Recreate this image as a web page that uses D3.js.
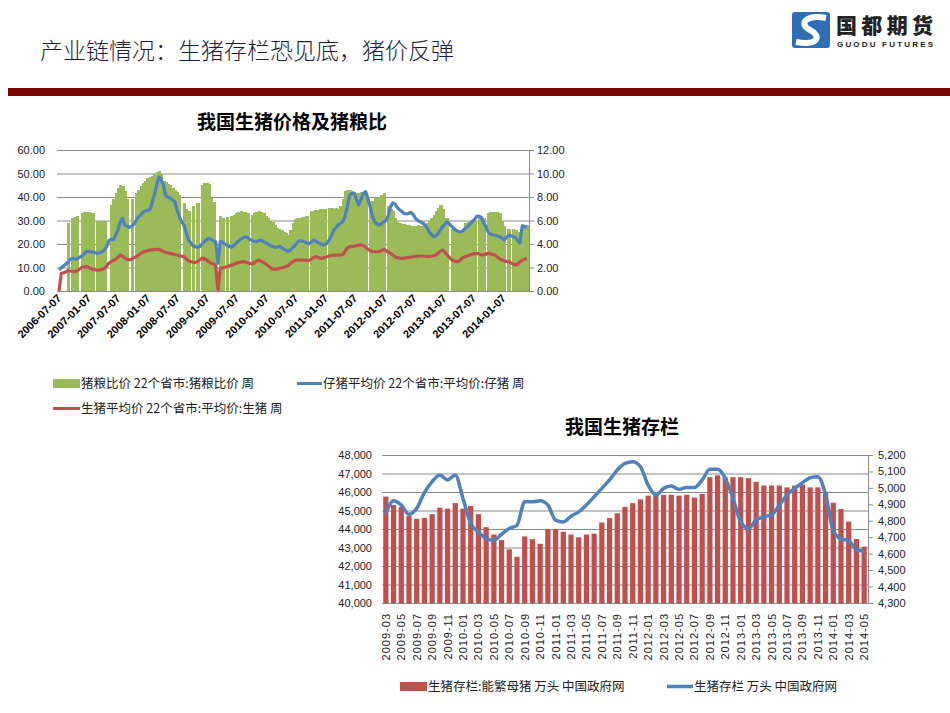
<!DOCTYPE html>
<html><head><meta charset="utf-8">
<script src="https://cdn.jsdelivr.net/npm/d3@7/dist/d3.min.js"></script>
<style>
html,body{margin:0;padding:0;background:#fff;}
svg{display:block;font-family:"Liberation Sans",Arial,sans-serif;}
</style></head><body>
<svg id="c" width="950" height="713"></svg>
<script>
// ---------- data: top chart (bi-weekly from 2006-07-07) ----------
const weekStart = "2006-07-07";
const stepDays = 14;
const topTickLabels = ["2006-07-07","2007-01-07","2007-07-07","2008-01-07","2008-07-07","2009-01-07","2009-07-07","2010-01-07","2010-07-07","2011-01-07","2011-07-07","2012-01-07","2012-07-07","2013-01-07","2013-07-07","2014-01-07"];
const leftTicks = [0,10,20,30,40,50,60];
const rightTicks = [0,2,4,6,8,10,12];
// 猪粮比价 (right axis)
const ratioValues = [
null,null,null,null,5.8,null,6.2,6.3,6.4,null,
6.6,6.7,6.75,6.7,6.6,6.6,null,6.0,5.95,5.9,
6.0,null,null,7.3,7.8,8.3,8.8,9.0,8.9,8.5,
7.8,null,7.8,null,8.3,8.6,8.9,9.2,9.4,9.6,
9.7,9.8,10.0,10.1,10.2,10.0,9.4,9.3,9.1,9.0,
8.8,8.6,8.4,8.2,null,7.5,7.0,6.8,null,7.2,
null,7.5,null,9.0,9.2,9.2,9.1,7.9,7.6,null,
null,6.4,6.2,null,6.3,null,6.4,6.5,6.6,6.7,
6.8,6.75,6.7,6.6,null,6.5,6.6,6.75,6.8,6.7,
6.6,6.4,6.2,6.0,5.9,5.6,5.4,5.3,5.2,5.0,
4.9,4.8,5.2,5.8,6.1,6.2,6.2,6.3,6.3,6.4,
null,6.8,6.85,6.9,6.9,6.95,7.0,7.0,null,7.1,
7.1,7.0,7.1,7.0,7.2,7.8,8.5,8.6,8.6,8.5,
8.4,8.3,8.3,8.4,8.2,8.3,null,7.6,7.7,7.9,
8.0,8.0,8.2,8.3,null,7.2,7.0,6.8,6.2,5.9,
5.8,5.7,5.7,5.6,5.6,5.5,5.5,5.5,5.6,5.5,
5.5,5.6,5.8,6.0,6.2,6.5,6.8,7.1,7.3,7.0,
6.2,6.2,null,5.3,5.2,5.1,5.0,5.1,5.3,5.8,
5.9,6.0,6.0,6.0,null,6.2,6.2,6.2,null,6.6,
6.7,6.7,6.75,6.7,6.6,6.0,5.5,null,5.3,null,
5.3,5.2,5.0,4.9,5.3,5.6,5.6];
// 仔猪平均价 (left axis)
const pigletPrice = [
9.0,9.8,10.6,11.5,12.3,13.5,13.9,13.6,13.6,14.3,
14.9,15.8,16.7,16.9,16.6,16.7,16.3,16.0,16.3,16.7,
17.5,18.9,21.5,22.0,21.8,24.0,26.0,29.5,31.0,28.1,
27.5,27.1,27.6,28.5,30.0,31.5,32.3,33.5,34.0,34.3,
34.5,37.5,41.0,45.0,48.5,47.5,45.0,40.5,40.0,39.5,
38.8,38.0,34.5,31.6,29.5,28.0,25.0,22.0,20.5,19.2,
18.8,18.6,18.9,20.0,21.0,21.8,22.4,22.0,21.4,21.0,
11.8,21.0,20.8,20.0,19.4,19.0,18.6,19.5,20.3,21.2,
22.1,22.6,23.1,22.8,21.9,21.5,21.0,21.0,21.5,21.7,
21.0,20.6,20.0,19.3,19.0,18.6,18.7,18.9,18.5,17.8,
17.4,16.8,17.5,18.5,19.5,20.8,21.4,21.2,21.0,20.5,
20.0,20.8,21.7,21.2,20.6,20.2,19.8,19.6,20.5,21.7,
23.5,26.0,27.0,28.1,28.8,29.5,32.0,36.0,40.9,41.5,
41.6,39.0,36.6,39.0,41.5,42.3,39.5,35.9,32.0,29.5,
28.5,28.1,28.6,29.5,30.0,32.0,35.9,37.5,37.0,35.5,
34.5,33.8,33.0,32.8,33.0,33.5,32.5,30.9,30.0,29.5,
29.0,28.3,27.0,25.2,24.0,23.1,23.5,24.5,26.0,27.5,
28.5,29.5,28.5,27.4,26.5,25.7,25.3,25.2,25.8,26.8,
27.4,28.5,29.5,30.5,31.9,31.8,31.3,29.0,27.4,25.0,
24.2,23.9,23.7,23.4,23.1,22.5,21.7,22.8,23.8,23.5,
23.1,22.8,21.7,20.3,27.7,27.5,27.1];
// 生猪平均价 (left axis)
const hogPrice = [
0,7.5,7.8,8.2,8.7,8.5,8.4,8.2,8.6,9.3,
10.0,10.2,10.4,10.0,9.6,9.2,9.0,8.9,9.0,9.3,
9.6,10.5,12.0,12.5,13.0,13.5,14.5,15.3,14.8,14.0,
13.5,13.2,13.5,14.2,14.6,15.3,16.0,16.5,17.0,17.2,
17.4,17.5,17.6,17.7,17.7,17.3,16.8,16.5,16.2,16.0,
15.8,15.5,15.3,15.0,14.8,14.6,13.8,12.8,12.5,12.3,
12.1,12.5,13.3,13.9,13.7,13.2,12.5,11.8,11.5,11.3,
0,9.6,9.8,10.1,10.4,10.7,11.0,11.3,11.8,12.1,
12.3,12.5,12.4,12.0,11.7,11.5,12.0,12.8,13.2,12.7,
12.1,11.6,10.8,10.0,9.4,9.2,9.4,9.6,9.8,10.1,
10.4,10.8,11.8,12.5,13.0,13.2,13.2,13.2,13.1,13.0,
12.9,13.5,14.2,14.6,14.3,14.0,13.9,14.2,14.6,14.9,
15.1,15.3,15.3,15.3,15.3,15.5,17.0,18.3,18.9,19.0,
19.1,19.3,19.5,19.6,19.3,18.6,17.8,17.2,16.7,16.7,
16.7,16.8,17.2,17.7,17.2,16.5,16.0,15.3,14.6,14.2,
14.0,13.9,14.0,14.2,14.3,14.4,14.6,14.7,14.8,14.9,
14.9,14.8,14.7,14.6,14.8,15.0,15.3,16.2,17.0,17.4,
16.5,15.3,14.2,13.2,12.8,12.5,12.7,13.5,14.3,14.7,
15.0,15.3,15.6,15.9,16.0,15.8,15.4,15.4,15.7,16.0,
15.8,15.5,15.3,14.5,13.8,13.2,12.9,12.6,12.5,12.0,
11.5,11.1,11.5,12.5,13.0,13.5,13.9];

// ---------- data: bottom chart (monthly) ----------
const months = ["2009-03","2009-04","2009-05","2009-06","2009-07","2009-08","2009-09","2009-10","2009-11","2009-12",
"2010-01","2010-02","2010-03","2010-04","2010-05","2010-06","2010-07","2010-08","2010-09","2010-10","2010-11","2010-12",
"2011-01","2011-02","2011-03","2011-04","2011-05","2011-06","2011-07","2011-08","2011-09","2011-10","2011-11","2011-12",
"2012-01","2012-02","2012-03","2012-04","2012-05","2012-06","2012-07","2012-08","2012-09","2012-10","2012-11","2012-12",
"2013-01","2013-02","2013-03","2013-04","2013-05","2013-06","2013-07","2013-08","2013-09","2013-10","2013-11","2013-12",
"2014-01","2014-02","2014-03","2014-04","2014-05"];
const hogStock = [45750,45300,45200,44700,44550,44600,44800,45150,45100,45400,
45100,45250,44800,44100,43700,43400,42900,42500,43600,43450,
43200,44000,44000,43850,43700,43550,43700,43750,44350,44600,
44850,45200,45400,45600,45800,45850,45850,45850,45800,45850,
45700,45900,46800,46900,46800,46800,46800,46750,46550,46350,
46350,46350,46250,46350,46400,46250,46250,46000,45420,45080,
44400,43460,43045];
const sowStock = [4844,4922,4896,4839,4876,4971,5038,5078,5048,5078,
4936,4783,4732,4692,4682,4718,4753,4773,4916,4916,
4922,4896,4804,4793,4828,4854,4896,4946,4997,5048,
5109,5149,5159,5129,5017,4956,4997,5011,4991,5003,
5003,5048,5113,5113,5058,4936,4793,4753,4804,4825,
4835,4896,4956,4997,5031,5062,5068,4960,4740,4690,
4680,4625,4615];
const bLeftTicks = [40000,41000,42000,43000,44000,45000,46000,47000,48000];
const bRightTicks = [4300,4400,4500,4600,4700,4800,4900,5000,5100,5200];

const GREEN="#9BBB59", BLUE="#4F81BD", RED="#C0504D", GRID="#8c8c8c";
const svg = d3.select("#c");

// ---------- header ----------
svg.append("text").attr("x",40).attr("y",59)
  .style("font-family","'Noto Sans CJK SC'").style("font-size","23px").style("font-weight","300")
  .attr("fill","#1d1d3a").text("产业链情况：生猪存栏恐见底，猪价反弹");
svg.append("rect").attr("x",8).attr("y",88).attr("width",942).attr("height",8).attr("fill","#7a0606");
// logo
const lg = svg.append("g");
lg.append("rect").attr("x",792).attr("y",12).attr("width",38).attr("height",36).attr("rx",3).attr("fill","#2f6db5");
lg.append("path").attr("d","M826,18 C806,14 798,24 810,30 C822,36 818,46 796,42")
  .attr("fill","none").attr("stroke","#fff").attr("stroke-width",6);
lg.append("text").attr("x",836).attr("y",33).style("font-family","'Noto Sans CJK SC'").style("font-weight","900")
  .style("font-size","21px").attr("fill","#222").attr("textLength",97).text("国都期货");
lg.append("text").attr("x",837).attr("y",47).style("font-weight","bold").style("font-size","8px")
  .attr("fill","#222").attr("textLength",96).text("GUODU FUTURES");

// ---------- top chart ----------
const pL=57, pR=529, pT=150, pB=291;
const parse = d3.timeParse("%Y-%m-%d");
const d0 = parse(weekStart);
const dates = ratioValues.map((_,i)=>d3.timeDay.offset(d0, i*stepDays));
const x = d3.scaleTime().domain([parse("2006-07-07"), parse("2014-01-07")]).range([59, 503.6]);
const yL = d3.scaleLinear().domain([0,60]).range([pB,pT]);
const yR = d3.scaleLinear().domain([0,12]).range([pB,pT]);

svg.append("text").attr("x",292).attr("y",129).attr("text-anchor","middle")
  .style("font-family","'Noto Sans CJK SC'").style("font-weight","bold").style("font-size","19px")
  .attr("fill","#000").text("我国生猪价格及猪粮比");

const gT = svg.append("g");
gT.selectAll("line.grid").data(leftTicks).join("line")
  .attr("x1",pL).attr("x2",pR).attr("y1",d=>yL(d)+0.5).attr("y2",d=>yL(d)+0.5)
  .attr("stroke",GRID).attr("stroke-width",1);
gT.selectAll("text.yl").data(leftTicks).join("text")
  .attr("x",45).attr("y",d=>yL(d)+4).attr("text-anchor","end").style("font-size","11px").attr("fill","#222")
  .text(d=>d3.format(".2f")(d));
// right axis
gT.append("line").attr("x1",pR+0.5).attr("x2",pR+0.5).attr("y1",pT).attr("y2",pB).attr("stroke",GRID);
gT.selectAll("line.rt").data(rightTicks).join("line")
  .attr("x1",pR).attr("x2",pR+5).attr("y1",d=>yR(d)+0.5).attr("y2",d=>yR(d)+0.5).attr("stroke",GRID);
gT.selectAll("text.yr").data(rightTicks).join("text")
  .attr("x",537).attr("y",d=>yR(d)+4).style("font-size","11px").attr("fill","#222")
  .text(d=>d3.format(".2f")(d));

const bw = x(d3.timeDay.offset(d0,stepDays)) - x(d0);
gT.selectAll("rect.g").data(ratioValues.map((v,i)=>({v,d:dates[i]})).filter(o=>o.v!=null)).join("rect")
  .attr("x",o=>x(o.d)-bw/2).attr("width",bw+1)
  .attr("y",o=>yR(o.v)).attr("height",o=>yR(0)-yR(o.v)).attr("fill",GREEN)
  .attr("shape-rendering","crispEdges");

const lineL = d3.line().x((v,i)=>x(dates[i])).y(v=>yL(v));
gT.append("path").attr("d",lineL(pigletPrice)).attr("fill","none").attr("stroke",BLUE)
  .attr("stroke-width",3.2).attr("stroke-linejoin","round");
gT.append("path").attr("d",lineL(hogPrice)).attr("fill","none").attr("stroke",RED)
  .attr("stroke-width",3.2).attr("stroke-linejoin","round");

gT.append("line").attr("x1",pL).attr("x2",pR).attr("y1",pB+0.5).attr("y2",pB+0.5).attr("stroke",GRID);
gT.selectAll("text.xl").data(topTickLabels).join("text")
  .attr("transform",d=>`translate(${x(parse(d))+3},${pB+8}) rotate(-45)`)
  .attr("text-anchor","end").style("font-size","11px").style("font-weight","bold").attr("fill","#000")
  .text(d=>d);

// top legend
const lgT = svg.append("g").style("font-family","'Noto Sans CJK SC'").style("font-size","12.5px");
lgT.append("rect").attr("x",53).attr("y",379).attr("width",27).attr("height",9).attr("fill",GREEN);
lgT.append("text").attr("x",81).attr("y",388).attr("fill","#222").text("猪粮比价 22个省市:猪粮比价 周");
lgT.append("line").attr("x1",297).attr("x2",322).attr("y1",383.5).attr("y2",383.5).attr("stroke",BLUE).attr("stroke-width",3);
lgT.append("text").attr("x",323).attr("y",388).attr("fill","#222").text("仔猪平均价 22个省市:平均价:仔猪 周");
lgT.append("line").attr("x1",53).attr("x2",80).attr("y1",408.5).attr("y2",408.5).attr("stroke",RED).attr("stroke-width",3);
lgT.append("text").attr("x",81).attr("y",413).attr("fill","#222").text("生猪平均价 22个省市:平均价:生猪 周");

// ---------- bottom chart ----------
const bL=382, bR=868, bT=455, bB=603;
const xb = d3.scaleBand().domain(months).range([bL,bR]).paddingInner(0.32).paddingOuter(0.16);
const ybL = d3.scaleLinear().domain([40000,48000]).range([bB,bT]);
const ybR = d3.scaleLinear().domain([4300,5200]).range([bB,bT]);

svg.append("text").attr("x",622).attr("y",434).attr("text-anchor","middle")
  .style("font-family","'Noto Sans CJK SC'").style("font-weight","bold").style("font-size","19px")
  .attr("fill","#000").text("我国生猪存栏");

const gB = svg.append("g");
gB.selectAll("line.grid").data(bLeftTicks).join("line")
  .attr("x1",bL).attr("x2",bR).attr("y1",d=>ybL(d)+0.5).attr("y2",d=>ybL(d)+0.5).attr("stroke",GRID);
gB.selectAll("text.yl").data(bLeftTicks).join("text")
  .attr("x",372).attr("y",d=>ybL(d)+4).attr("text-anchor","end").style("font-size","11px").attr("fill","#222")
  .text(d=>d3.format(",")(d));
gB.append("line").attr("x1",bR+0.5).attr("x2",bR+0.5).attr("y1",bT).attr("y2",bB).attr("stroke",GRID);
gB.selectAll("line.rt").data(bRightTicks).join("line")
  .attr("x1",bR).attr("x2",bR+5).attr("y1",d=>ybR(d)+0.5).attr("y2",d=>ybR(d)+0.5).attr("stroke",GRID);
gB.selectAll("text.yr").data(bRightTicks).join("text")
  .attr("x",878).attr("y",d=>ybR(d)+4).style("font-size","11px").attr("fill","#222")
  .text(d=>d3.format(",")(d));

gB.selectAll("rect.b").data(months).join("rect")
  .attr("x",m=>xb(m)).attr("width",xb.bandwidth())
  .attr("y",(m,i)=>ybL(hogStock[i])).attr("height",(m,i)=>ybL(40000)-ybL(hogStock[i])).attr("fill",RED);
gB.append("line").attr("x1",bL).attr("x2",bR).attr("y1",bB+0.5).attr("y2",bB+0.5).attr("stroke",GRID);

const lineB = d3.line().x((v,i)=>xb(months[i])+xb.bandwidth()/2).y(v=>ybR(v)).curve(d3.curveMonotoneX);
gB.append("path").attr("d",lineB(sowStock)).attr("fill","none").attr("stroke",BLUE)
  .attr("stroke-width",3.5).attr("stroke-linejoin","round");

gB.selectAll("text.xl").data(months.filter((m,i)=>i%2===0)).join("text")
  .attr("transform",m=>`translate(${xb(m)+xb.bandwidth()/2+4},${bB+10}) rotate(-90)`)
  .attr("text-anchor","end").style("font-size","11px").style("letter-spacing","1px").attr("fill","#222")
  .text(m=>m);

// bottom legend
const lgB = svg.append("g").style("font-family","'Noto Sans CJK SC'").style("font-size","12.5px");
lgB.append("rect").attr("x",400).attr("y",682).attr("width",27).attr("height",9).attr("fill",RED);
lgB.append("text").attr("x",428).attr("y",691).attr("fill","#222").text("生猪存栏:能繁母猪 万头 中国政府网");
lgB.append("line").attr("x1",667).attr("x2",693).attr("y1",686.5).attr("y2",686.5).attr("stroke",BLUE).attr("stroke-width",3.5);
lgB.append("text").attr("x",694).attr("y",691).attr("fill","#222").text("生猪存栏 万头 中国政府网");
</script>
</body></html>
